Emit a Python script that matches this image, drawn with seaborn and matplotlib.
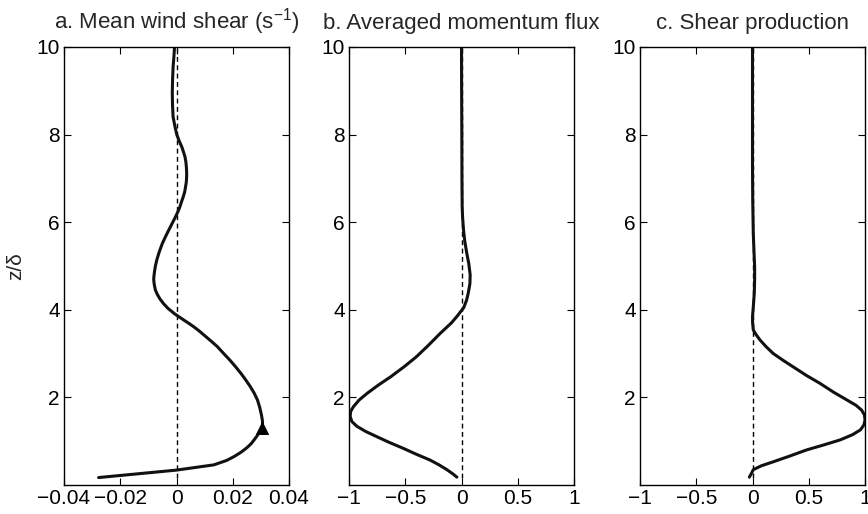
import matplotlib
matplotlib.use("Agg")
import matplotlib.pyplot as plt
import seaborn as sns
import pandas as pd

# ---- data ----
z_a = [0.17, 0.34, 0.46, 0.56, 0.65, 0.75, 0.85, 0.94, 1.03, 1.10, 1.18, 1.26, 1.33,
       1.45, 1.60, 1.77, 1.94, 2.10, 2.25, 2.40, 2.55, 2.70, 2.85, 3.00, 3.16, 3.28,
       3.40, 3.51, 3.61, 3.69, 3.77, 3.90, 4.03, 4.14, 4.25, 4.35, 4.45, 4.54, 4.62,
       4.70, 4.78, 4.88, 5.00, 5.14, 5.29, 5.40, 5.52, 5.63, 5.75, 5.94, 6.13, 6.24,
       6.35, 6.47, 6.58, 6.69, 6.80, 6.92, 7.04, 7.15, 7.27, 7.39, 7.50, 7.60, 7.70,
       7.79, 7.88, 8.00, 8.20, 8.40, 8.65, 8.94, 9.25, 9.55, 9.80, 10.0]
u_a = [-0.0277, 0.0, 0.0133, 0.0178, 0.0205, 0.0230, 0.0250, 0.0265, 0.0276, 0.0284,
       0.0293, 0.0300, 0.0305, 0.0306, 0.0302, 0.0296, 0.0288, 0.0276, 0.0262, 0.0246,
       0.0229, 0.0210, 0.0190, 0.0168, 0.0145, 0.0124, 0.0102, 0.0082, 0.0062, 0.0044,
       0.0025, -0.0005, -0.0030, -0.0046, -0.0059, -0.0068, -0.0075, -0.0078, -0.0080,
       -0.0081, -0.0080, -0.0078, -0.0075, -0.0070, -0.0063, -0.0057, -0.0050, -0.0042,
       -0.0033, -0.0018, -0.0003, 0.0005, 0.0012, 0.0018, 0.0024, 0.0029, 0.0032,
       0.0035, 0.0036, 0.0036, 0.0035, 0.0033, 0.0030, 0.0025, 0.0020, 0.0014, 0.0008,
       0.0001, -0.0006, -0.0012, -0.0014, -0.0015, -0.0014, -0.0012, -0.0009, -0.0007]

z_b = [0.18, 0.26, 0.35, 0.46, 0.57, 0.70, 0.84, 0.97, 1.10, 1.22, 1.34, 1.45, 1.57,
       1.68, 1.79, 1.94, 2.09, 2.28, 2.47, 2.70, 2.93, 3.20, 3.46, 3.70, 3.85, 4.05,
       4.22, 4.38, 4.60, 4.80, 5.05, 5.29, 5.55, 5.82, 6.10, 6.35, 7.00, 8.00, 9.00,
       10.0]
u_b = [-0.041, -0.080, -0.13, -0.20, -0.28, -0.40, -0.52, -0.64, -0.75, -0.85, -0.93,
       -0.975, -0.99, -0.985, -0.96, -0.91, -0.84, -0.74, -0.63, -0.51, -0.40, -0.29,
       -0.19, -0.09, -0.04, 0.02, 0.045, 0.06, 0.075, 0.077, 0.065, 0.047, 0.030, 0.018,
       0.010, 0.006, 0.004, 0.003, 0.001, 0.0]

z_c = [0.18, 0.26, 0.35, 0.44, 0.53, 0.66, 0.80, 0.92, 1.03, 1.15, 1.26, 1.37, 1.48,
       1.60, 1.71, 1.82, 1.94, 2.12, 2.32, 2.50, 2.70, 2.85, 3.00, 3.16, 3.31, 3.44,
       3.54, 3.70, 3.84, 4.10, 4.38, 4.70, 4.98, 5.35, 5.74, 6.50, 7.30, 8.50, 10.0]
u_c = [-0.028, -0.01, 0.007, 0.08, 0.185, 0.33, 0.48, 0.64, 0.78, 0.89, 0.96, 0.99,
       1.0, 0.995, 0.97, 0.92, 0.84, 0.72, 0.60, 0.48, 0.36, 0.27, 0.185, 0.12, 0.067,
       0.030, 0.007, 0.001, 0.0, 0.008, 0.016, 0.019, 0.019, 0.013, 0.007, 0.002, 0.0,
       0.0, 0.0]

marker_u = [0.0305]
marker_z = [1.30]

titles = ["a. Mean wind shear (s$^{-1}$)", "b. Averaged momentum flux", "c. Shear production"]
xlims = [(-0.04, 0.04), (-1, 1), (-1, 1)]
xticks_list = [[-0.04, -0.02, 0, 0.02, 0.04], [-1, -0.5, 0, 0.5, 1], [-1, -0.5, 0, 0.5, 1]]
xticklabels_list = [["\u22120.04", "\u22120.02", "0", "0.02", "0.04"],
                    ["\u22121", "\u22120.5", "0", "0.5", "1"],
                    ["\u22121", "\u22120.5", "0", "0.5", "1"]]
yticks = [2, 4, 6, 8, 10]
zero_z = [0.15, 10.0]
zero_u = [0.0, 0.0]

sns.set_theme(style="ticks")
plt.rcParams["font.family"] = ["Liberation Sans", "DejaVu Sans"]
plt.rcParams["mathtext.fontset"] = "custom"
plt.rcParams["mathtext.rm"] = "Liberation Sans"
plt.rcParams["mathtext.it"] = "Liberation Sans"

fig = plt.figure(figsize=(8.68, 5.14), dpi=100)
lefts = [64 / 868, 349 / 868, 640 / 868]
width = 225 / 868
bottom = 1 - 485 / 514
height = (485 - 47) / 514

series = [(u_a, z_a), (u_b, z_b), (u_c, z_c)]
for i in range(3):
    ax = fig.add_axes([lefts[i], bottom, width, height])
    zero_df = pd.DataFrame({"u": zero_u, "z": zero_z})
    sns.lineplot(data=zero_df, x="u", y="z", sort=False, estimator=None, ax=ax,
                 color="black", lw=1.0, linestyle=(0, (3.5, 2.5)))
    u, z = series[i]
    df = pd.DataFrame({"u": u, "z": z})
    sns.lineplot(data=df, x="u", y="z", sort=False, estimator=None, ax=ax,
                 color="#111111", lw=2.2)
    if i == 0:
        mdf = pd.DataFrame({"u": marker_u, "z": marker_z})
        sns.scatterplot(data=mdf, x="u", y="z", ax=ax, marker="^", s=75,
                        color="black", edgecolor="black", zorder=5)
    ax.set_xlim(*xlims[i])
    ax.set_ylim(0, 10)
    ax.set_xticks(xticks_list[i])
    ax.set_xticklabels(xticklabels_list[i])
    ax.set_yticks(yticks)
    ax.set_xlabel("")
    ax.set_ylabel("z/\u03b4" if i == 0 else "", fontsize=15, labelpad=8)
    ax.tick_params(direction="in", length=5, width=0.8, top=True, right=True,
                   labelsize=15, colors="black", pad=3)
    for sp in ax.spines.values():
        sp.set_visible(True)
        sp.set_color("black")
        sp.set_linewidth(1.0)
    ax.set_title(titles[i], fontsize=16, pad=13)

fig.savefig("out.png", dpi=100)
